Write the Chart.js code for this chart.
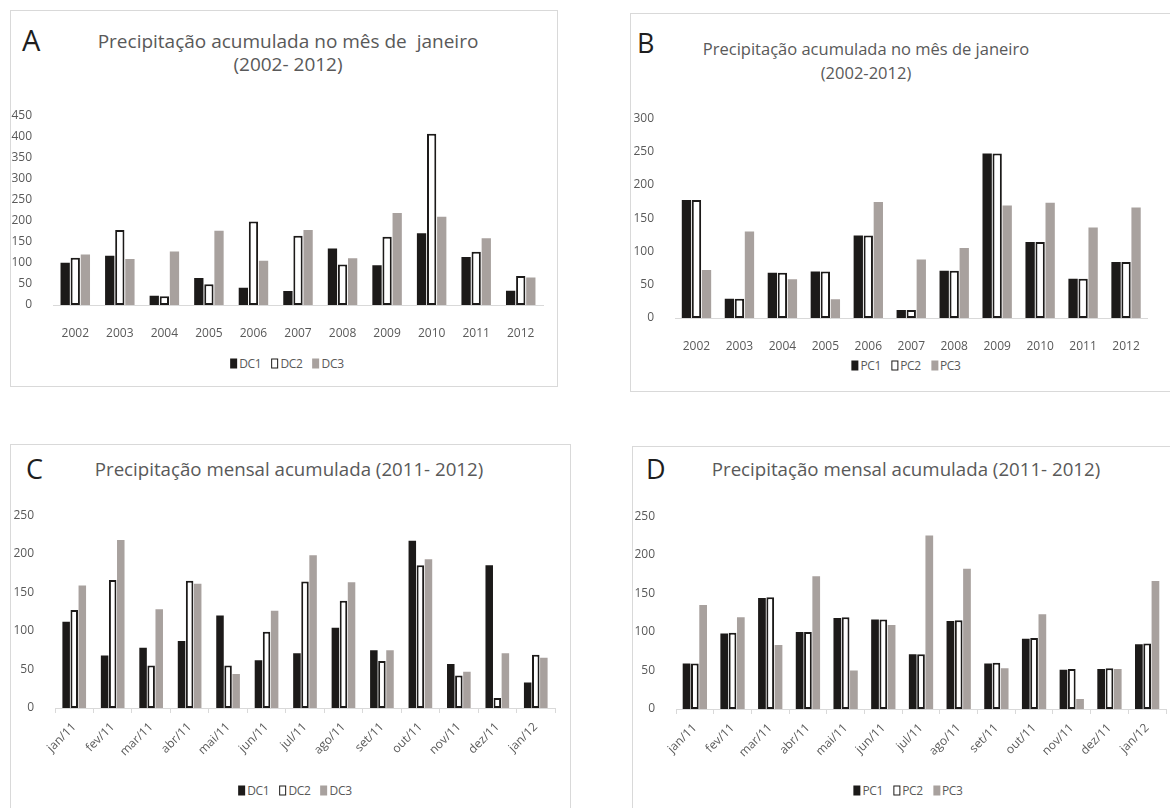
<!DOCTYPE html>
<html>
<head>
<meta charset="utf-8">
<script src="https://cdn.jsdelivr.net/npm/chart.js@4"></script>
<style>
  html, body { margin: 0; padding: 0; background: #fff; }
  body { width: 1170px; height: 808px; position: relative; overflow: hidden; font-family: 'Open Sans', sans-serif; }
  .frame { position: absolute; border: 1px solid #d9d9d9; background: #fff; box-sizing: border-box; }
  .cv { position: absolute; }
  .letter { position: absolute; font-size: 29px; color: #1e1e1e; line-height: 1; }
  .title { position: absolute; color: #595959; text-align: center; white-space: pre; transform: translateX(-50%); }
  .legend { position: absolute; transform: translate(-50%, -50%); font-size: 12px; color: #595959; white-space: nowrap; letter-spacing: -0.3px; }
  .legend span { display: inline-block; margin: 0 5px; }
  .legend i { display: inline-block; width: 7px; height: 10px; margin-right: 2px; vertical-align: -1px; box-sizing: border-box; }
  .k1 { background: #1c1a19; }
  .k2 { background: #fff; border: 1.5px solid #1c1a19; }
  .k3 { background: #a8a19e; }
</style>
</head>
<body>
<!-- panel frames -->
<div class="frame" style="left:10px;top:10px;width:548px;height:377px"></div>
<div class="frame" style="left:630px;top:13px;width:560px;height:379px"></div>
<div class="frame" style="left:10px;top:444px;width:561px;height:400px"></div>
<div class="frame" style="left:632px;top:446px;width:560px;height:400px"></div>

<!-- panel letters and titles -->
<div class="letter" style="left:22px;top:25px">A</div>
<div class="title" style="left:288px;top:30px;font-size:19px;line-height:23px">Precipitação acumulada no mês de  janeiro
(2002- 2012)</div>

<div class="letter" style="left:637px;top:29px;font-size:27px">B</div>
<div class="title" style="left:866px;top:37px;font-size:16.5px;line-height:24px">Precipitação acumulada no mês de janeiro
(2002-2012)</div>

<div class="letter" style="left:26px;top:455px;font-size:27px">C</div>
<div class="title" style="left:289px;top:456px;font-size:18.7px;line-height:26px">Precipitação mensal acumulada (2011- 2012)</div>

<div class="letter" style="left:646px;top:455px;font-size:27px">D</div>
<div class="title" style="left:906px;top:456px;font-size:18.7px;line-height:26px">Precipitação mensal acumulada (2011- 2012)</div>

<!-- legends -->
<div class="legend" style="left:287px;top:363px"><span><i class="k1"></i>DC1</span><span><i class="k2"></i>DC2</span><span><i class="k3"></i>DC3</span></div>
<div class="legend" style="left:906px;top:365px"><span><i class="k1"></i>PC1</span><span><i class="k2"></i>PC2</span><span><i class="k3"></i>PC3</span></div>
<div class="legend" style="left:295px;top:790px"><span><i class="k1"></i>DC1</span><span><i class="k2"></i>DC2</span><span><i class="k3"></i>DC3</span></div>
<div class="legend" style="left:908px;top:790px"><span><i class="k1"></i>PC1</span><span><i class="k2"></i>PC2</span><span><i class="k3"></i>PC3</span></div>

<!-- chart canvases -->
<div class="cv" style="left:11px;top:95px;width:537px;height:245px"><canvas id="chartA"></canvas></div>
<div class="cv" style="left:631px;top:98px;width:522px;height:255px"><canvas id="chartB"></canvas></div>
<div class="cv" style="left:12px;top:495px;width:549px;height:273px"><canvas id="chartC"></canvas></div>
<div class="cv" style="left:633px;top:496px;width:537px;height:273px"><canvas id="chartD"></canvas></div>

<script>
// Years shown for January totals
const years = ['2002', '2003', '2004', '2005', '2006', '2007', '2008', '2009', '2010', '2011', '2012'];

// January accumulated precipitation, DC stations (mm)
const dc1Jan = [100, 117, 22, 64, 41, 33, 134, 94, 170, 114, 34];
const dc2Jan = [112, 178, 21, 49, 198, 164, 96, 162, 406, 126, 69];
const dc3Jan = [120, 109, 127, 176, 105, 178, 111, 218, 209, 158, 65];

// January accumulated precipitation, PC stations (mm)
const pc1Jan = [177, 29, 68, 70, 124, 12, 71, 247, 114, 59, 84];
const pc2Jan = [177, 29, 68, 70, 124, 12, 71, 247, 114, 59, 84];
const pc3Jan = [72, 130, 58, 28, 174, 88, 105, 169, 173, 136, 166];

// Months from jan/11 to jan/12
const months = ['jan/11', 'fev/11', 'mar/11', 'abr/11', 'mai/11', 'jun/11', 'jul/11',
                'ago/11', 'set/11', 'out/11', 'nov/11', 'dez/11', 'jan/12'];

// Monthly accumulated precipitation, DC stations (mm)
const dc1Month = [112, 68, 78, 87, 120, 62, 71, 104, 75, 217, 57, 185, 33];
const dc2Month = [127, 166, 55, 165, 55, 99, 164, 139, 61, 185, 42, 13, 69];
const dc3Month = [159, 218, 128, 161, 44, 126, 198, 163, 75, 193, 47, 71, 65];

// Monthly accumulated precipitation, PC stations (mm)
const pc1Month = [59, 98, 144, 100, 118, 116, 71, 114, 59, 91, 51, 52, 84];
const pc2Month = [59, 99, 145, 100, 119, 116, 71, 115, 60, 92, 52, 53, 85];
const pc3Month = [135, 119, 83, 172, 50, 109, 225, 182, 53, 123, 13, 52, 166];

// Y axis limits per panel
const yMaxA = 450, yMaxB = 300, yMaxC = 250, yMaxD = 250;
const yStep = 50;

Chart.defaults.font.family = "'Open Sans', sans-serif";
Chart.defaults.font.size = 12;
Chart.defaults.color = '#595959';
Chart.defaults.animation = false;

const BLACK = '#1c1a19';
const GREY = '#a8a19e';

function series(names, values, catPct, barPct) {
  const styles = [
    { backgroundColor: BLACK, borderWidth: 0 },
    { backgroundColor: '#ffffff', borderColor: BLACK, borderWidth: 2, borderSkipped: false },
    { backgroundColor: GREY, borderWidth: 0 }
  ];
  return names.map((n, i) => Object.assign({
    label: n,
    data: values[i],
    categoryPercentage: catPct,
    barPercentage: barPct
  }, styles[i]));
}

function makeChart(id, labels, datasets, yMax, opts) {
  new Chart(document.getElementById(id), {
    type: 'bar',
    data: { labels: labels, datasets: datasets },
    options: {
      responsive: true,
      maintainAspectRatio: false,
      layout: { padding: { top: 10, right: opts.padRight, left: 0, bottom: 0 } },
      plugins: { legend: { display: false }, title: { display: false }, tooltip: { enabled: false } },
      scales: {
        x: {
          offset: true,
          grid: opts.rotate
            ? { display: true, drawOnChartArea: false, drawTicks: true, tickLength: 5, offset: true, color: '#d9d9d9' }
            : { display: false },
          border: { display: true, color: '#d9d9d9', width: 1 },
          ticks: opts.rotate
            ? { autoSkip: false, minRotation: 45, maxRotation: 45, padding: 7 }
            : { autoSkip: false, maxRotation: 0, padding: 13 },
          afterFit: s => { s.height = opts.xHeight; }
        },
        y: {
          min: 0,
          max: yMax,
          grid: { display: false },
          border: { display: false },
          ticks: { stepSize: yStep, padding: 13 },
          afterFit: s => { s.width = opts.yWidth; }
        }
      }
    }
  });
}

makeChart('chartA', years, series(['DC1', 'DC2', 'DC3'], [dc1Jan, dc2Jan, dc3Jan], 0.68, 0.92), yMaxA,
  { padRight: 5, xHeight: 35, yWidth: 42, rotate: false });
makeChart('chartB', years, series(['PC1', 'PC2', 'PC3'], [pc1Jan, pc2Jan, pc3Jan], 0.7, 0.93), yMaxB,
  { padRight: 5, xHeight: 35, yWidth: 44, rotate: false });
makeChart('chartC', months, series(['DC1', 'DC2', 'DC3'], [dc1Month, dc2Month, dc3Month], 0.63, 0.93), yMaxC,
  { padRight: 6, xHeight: 60, yWidth: 43, rotate: true });
makeChart('chartD', months, series(['PC1', 'PC2', 'PC3'], [pc1Month, pc2Month, pc3Month], 0.66, 0.93), yMaxD,
  { padRight: 4, xHeight: 60, yWidth: 43, rotate: true });
</script>
</body>
</html>
